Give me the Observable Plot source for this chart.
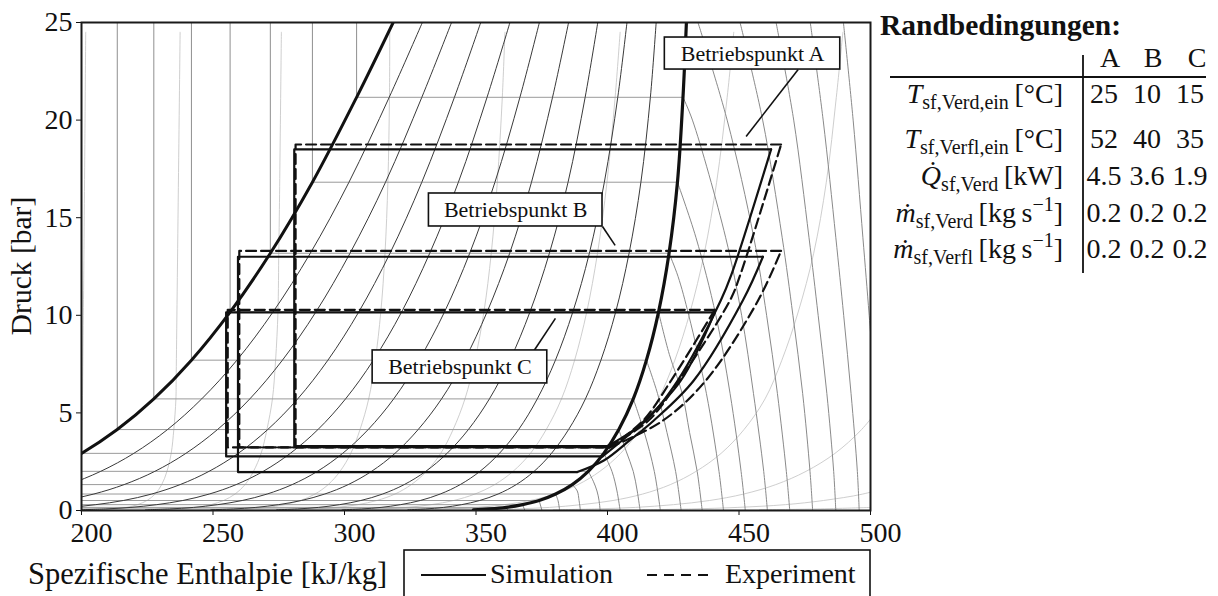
<!DOCTYPE html>
<html>
<head>
<meta charset="utf-8">
<script src="https://cdn.jsdelivr.net/npm/d3@7"></script>
<script src="https://cdn.jsdelivr.net/npm/@observablehq/plot@0.6"></script>
<style>
  body { margin: 0; background: #fff; }
  #chart svg { display: block; }
</style>
</head>
<body>
<div id="chart"></div>
<script>
// ---------------- axis ticks ----------------
const xTicks = [200, 250, 300, 350, 400, 450, 500];
const yTicks = [0, 5, 10, 15, 20, 25];

// ---------------- saturation (dome) ----------------
const satT  = [-80, -70, -60, -50, -40, -30, -20, -10, 0, 10, 20, 30, 40, 50, 60, 70, 77.6];
const satP  = [0.037, 0.080, 0.159, 0.299, 0.512, 0.844, 1.327, 2.006, 2.928, 4.146, 5.717, 7.702, 10.166, 13.179, 16.818, 21.168, 25.0];
const satHl = [99.5, 111.5, 123.6, 135.8, 148.1, 160.8, 173.6, 186.7, 200.0, 213.6, 227.5, 241.8, 256.5, 271.8, 287.8, 304.6, 318.5];
const satHv = [349.0, 355.2, 361.5, 367.7, 374.0, 380.3, 386.6, 392.7, 398.6, 404.3, 409.8, 414.8, 419.4, 423.4, 426.6, 428.7, 430.0];

// ---------------- quality lines (h at each satP) ----------------
const qualityLevels = [0.1, 0.2, 0.3, 0.4, 0.5, 0.6, 0.7, 0.8, 0.9];
const qualityH = [
  [124.5, 135.9, 147.4, 159.0, 170.7, 182.8, 194.9, 207.3, 219.9, 232.7, 245.7, 259.1, 272.8, 287.0, 301.7, 317.0, 329.6],
  [149.4, 160.2, 171.2, 182.2, 193.3, 204.7, 216.2, 227.9, 239.7, 251.7, 264.0, 276.4, 289.1, 302.1, 315.6, 329.4, 340.7],
  [174.4, 184.6, 195.0, 205.4, 215.9, 226.7, 237.5, 248.5, 259.6, 270.8, 282.2, 293.7, 305.4, 317.3, 329.4, 341.8, 351.8],
  [199.3, 209.0, 218.8, 228.6, 238.5, 248.6, 258.8, 269.1, 279.4, 289.9, 300.4, 311.0, 321.7, 332.4, 343.3, 354.2, 362.9],
  [224.3, 233.4, 242.6, 251.8, 261.1, 270.6, 280.1, 289.7, 299.3, 309.0, 318.7, 328.3, 338.0, 347.6, 357.2, 366.7, 374.1],
  [249.2, 257.7, 266.3, 274.9, 283.6, 292.5, 301.4, 310.3, 319.2, 328.0, 336.9, 345.6, 354.2, 362.8, 371.1, 379.1, 385.2],
  [274.2, 282.1, 290.1, 298.1, 306.2, 314.5, 322.7, 330.9, 339.0, 347.1, 355.1, 362.9, 370.5, 377.9, 385.0, 391.5, 396.3],
  [299.1, 306.5, 313.9, 321.3, 328.8, 336.4, 344.0, 351.5, 358.9, 366.2, 373.3, 380.2, 386.8, 393.1, 398.8, 403.9, 407.4],
  [324.1, 330.8, 337.7, 344.5, 351.4, 358.4, 365.3, 372.1, 378.7, 385.2, 391.6, 397.5, 403.1, 408.2, 412.7, 416.3, 418.5]
];

// ---------------- isotherms ----------------
const liquidIsoIdx = [8, 9, 10, 11, 12, 13, 14, 15];
const isobarIdx = [1, 2, 3, 4, 5, 6, 7, 8, 9, 10, 11, 12, 13, 14, 15];
const superT = [-70, -60, -50, -40, -30, -20, -10, 0, 10, 20, 30, 40, 50, 60, 70, 80, 90, 100, 110, 120];
const superLines = [
  [[355.2, 0.080], [355.8, 0]],
  [[361.5, 0.159], [362.2, 0]],
  [[367.7, 0.299], [368.6, 0]],
  [[374.0, 0.512], [375.1, 0]],
  [[380.3, 0.844], [381.2, 0.5], [381.8, 0]],
  [[386.6, 1.327], [388.5, 1.0], [389.2, 0.5], [389.7, 0]],
  [[392.7, 2.006], [394.6, 1.5], [396.0, 1.0], [396.8, 0.5], [397.2, 0]],
  [[398.6, 2.928], [401.7, 2.0], [403.6, 1.0], [404.8, 0]],
  [[404.3, 4.146], [407.2, 3.0], [409.8, 2.0], [411.3, 1.0], [412.4, 0]],
  [[409.8, 5.717], [414.0, 4.0], [417.8, 2.0], [420.1, 0]],
  [[414.8, 7.702], [419.0, 6.0], [422.6, 4.0], [425.9, 2.0], [428.0, 0]],
  [[419.4, 10.166], [423.5, 8.0], [428.4, 6.0], [431.2, 4.0], [434.1, 2.0], [436.0, 0]],
  [[423.4, 13.179], [426.8, 12.0], [430.9, 10.0], [437.6, 6.0], [442.4, 2.0], [444.1, 0]],
  [[426.6, 16.818], [433.6, 14.0], [441.2, 10.0], [446.6, 6.0], [450.8, 2.0], [452.4, 0]],
  [[428.7, 21.168], [432.3, 20.0], [444.9, 14.0], [451.0, 10.0], [455.5, 6.0], [459.4, 2.0], [460.8, 0]],
  [[434.4, 25], [445.5, 20], [455.6, 14], [460.5, 10], [464.6, 6], [468.0, 2], [469.3, 0]],
  [[450.4, 25], [459.0, 20], [466.4, 14], [470.5, 10], [474.2, 6], [477.0, 2], [478.0, 0]],
  [[464.1, 25], [470.8, 20], [476.6, 14], [480.1, 10], [483.4, 6], [486.0, 2], [486.8, 0]],
  [[477.1, 25], [482.0, 20], [486.8, 14], [489.8, 10], [492.6, 6], [495.0, 2], [495.7, 0]],
  [[489.7, 25], [493.4, 20], [497.1, 14], [499.5, 10], [501.8, 6]]
];

// ---------------- isentropes ----------------
const isenS = [1.0, 1.125, 1.25, 1.375, 1.5, 1.625, 1.75, 1.875, 2.0, 2.125, 2.25];
const isenLines = [
  [[183.2, 0.037], [187.2, 0.080], [190.6, 0.159], [193.4, 0.299], [195.8, 0.512], [197.6, 0.844], [198.9, 1.327], [199.6, 2.006], [200.0, 2.928], [200.7, 10], [201.6, 24.5]],
  [[207.3, 0.037], [212.6, 0.080], [217.2, 0.159], [221.3, 0.299], [224.9, 0.512], [228.0, 0.844], [230.5, 1.327], [232.5, 2.006], [234.1, 2.928], [235.1, 4.146], [235.9, 5.717], [236.0, 6.8], [237.5, 24.5]],
  [[231.4, 0.037], [238.0, 0.080], [243.9, 0.159], [249.2, 0.299], [254.0, 0.512], [258.4, 0.844], [262.2, 1.327], [265.4, 2.006], [268.3, 2.928], [270.5, 4.146], [272.6, 5.717], [273.8, 7.702], [274.7, 10.166], [275.0, 13.179], [275.1, 13.9], [276.0, 24.5]],
  [[255.6, 0.037], [263.4, 0.080], [270.5, 0.159], [277.1, 0.299], [283.2, 0.512], [288.8, 0.844], [293.8, 1.327], [298.3, 2.006], [302.4, 2.928], [305.9, 4.146], [309.2, 5.717], [311.7, 7.702], [313.8, 10.166], [315.4, 13.179], [316.5, 16.818], [317.1, 21.168], [317.2, 24.5]],
  [[279.7, 0.037], [288.7, 0.080], [297.2, 0.159], [305.0, 0.299], [312.3, 0.512], [319.2, 0.844], [325.4, 1.327], [331.2, 2.006], [336.6, 2.928], [341.3, 4.146], [345.8, 5.717], [349.6, 7.702], [353.0, 10.166], [355.8, 13.179], [358.1, 16.818], [360.0, 21.168], [361.0, 24.5]],
  [[303.9, 0.037], [314.1, 0.080], [323.8, 0.159], [332.9, 0.299], [341.5, 0.512], [349.6, 0.844], [357.1, 1.327], [364.1, 2.006], [370.7, 2.928], [376.7, 4.146], [382.5, 5.717], [387.5, 7.702], [392.1, 10.166], [396.2, 13.179], [399.8, 16.818], [402.9, 21.168], [404.8, 24.5]],
  [[328.0, 0.037], [339.5, 0.080], [350.5, 0.159], [360.8, 0.299], [370.6, 0.512], [380.0, 0.844], [388.8, 1.327], [397.1, 2.006], [405.0, 2.928], [412.3, 4.146], [419.4, 5.717], [425.6, 7.702], [431.4, 10.166], [436.8, 13.179], [441.5, 16.818], [445.5, 21.168], [448.0, 24.5]],
  [[352.2, 0.037], [365.3, 0.080], [378.0, 0.159], [390.0, 0.299], [402.1, 0.512], [413.4, 0.844], [423.9, 1.327], [433.7, 2.006], [443.2, 2.928], [451.9, 4.146], [459.9, 5.717], [466.3, 7.702], [472.5, 10.166], [478.4, 13.179], [483.2, 16.818], [487.0, 21.168], [489.5, 24.5]],
  [[379.4, 0.037], [395.0, 0.080], [410.7, 0.159], [425.1, 0.299], [438.8, 0.512], [451.8, 0.844], [464.0, 1.327], [475.5, 2.006], [486.5, 2.928], [496.6, 4.146], [506.0, 5.717]],
  [[413.4, 0.037], [432.0, 0.080], [449.6, 0.159], [467.6, 0.299], [482.1, 0.512], [497.1, 0.844], [510.0, 1.327]],
  [[457.8, 0.037], [479.7, 0.080], [500.5, 0.159]]
];

// ---------------- cycles (A, B, C) ----------------
const cycleNames = ["A", "B", "C"];
const simValveH = [280.9, 259.5, 255.0];
const expValveH = [281.4, 260.0, 255.6];
const simCompression = [
  [[400.0, 3.30], [414.5, 4.6], [426.7, 6.66], [443.1, 10.77], [447.0, 12.04], [462.2, 18.5]],
  [[388.5, 1.97], [398.6, 2.56], [408.5, 3.6], [417.5, 4.6], [432.8, 6.66], [451.5, 10.77], [459.1, 13.0]],
  [[398.1, 2.77], [414.0, 4.6], [427.9, 6.66], [440.8, 10.15]]
];
const expCompression = [
  [[400.4, 3.27], [415.5, 4.6], [427.2, 6.66], [446.6, 10.77], [450.4, 12.04], [466.0, 18.75]],
  [[400.8, 3.23], [421.0, 4.6], [437.4, 6.66], [457.3, 10.77], [466.0, 13.3]],
  [[400.8, 3.23], [413.5, 4.6], [424.2, 6.66], [440.8, 10.28]]
];

// ---------------- annotations ----------------
const annLabels = ["Betriebspunkt A", "Betriebspunkt B", "Betriebspunkt C"];
const annH1 = [421.8, 332.1, 310.7];
const annH2 = [488.5, 398.1, 377.1];
const annP1 = [22.59, 14.55, 6.51];
const annP2 = [24.23, 16.24, 8.20];
const leadH1 = [472.5, 398.1, 372.1];
const leadP1 = [22.59, 14.55, 8.20];
const leadH2 = [452.7, 402.9, 380.2];
const leadP2 = [19.16, 13.58, 9.84];

// ---------------- table & legend text ----------------
const tableTitle = "Randbedingungen:";
const tableCols = ["A", "B", "C"];
const rowSym = ["T", "T", "Q\u0307", "\u1E41", "\u1E41"];
const rowSub = ["sf,Verd,ein", "sf,Verfl,ein", "sf,Verd", "sf,Verd", "sf,Verfl"];
const rowUnit = ["[°C]", "[°C]", "[kW]", "[kg\u2009s", "[kg\u2009s"];
const rowUnitSup = ["", "", "", "\u22121", "\u22121"];
const valA = ["25", "52", "4.5", "0.2", "0.2"];
const valB = ["10", "40", "3.6", "0.2", "0.2"];
const valC = ["15", "35", "1.9", "0.2", "0.2"];
const legendLabels = ["Simulation", "Experiment"];
const xLabel = "Spezifische Enthalpie [kJ/kg]";
const yLabel = "Druck [bar]";

// ---------------- build rows ----------------
const liquidLine = satP.map((p, i) => ({h: satHl[i], p}));
const vaporLine = satP.map((p, i) => ({h: satHv[i], p}));
const qualityRows = qualityLevels.flatMap((q, k) => satP.map((p, i) => ({h: qualityH[k][i], p, q})));
const liqIsoRows = liquidIsoIdx.map(i => ({h: satHl[i], p1: satP[i], p2: satP[satP.length - 1]}));
const isobarRows = isobarIdx.map(i => ({h1: satHl[i], h2: satHv[i], p: satP[i]}));
const superRows = superT.flatMap((t, k) => superLines[k].map(([h, p]) => ({h, p, t})));
const isenRows = isenS.flatMap((s, k) => isenLines[k].map(([h, p]) => ({h, p, s})));

function loopRows(valveH, comp) {
  return cycleNames.flatMap((c, k) => {
    const first = comp[k][0], last = comp[k][comp[k].length - 1];
    return [
      {h: last[0], p: last[1], c},
      {h: valveH[k], p: last[1], c},
      {h: valveH[k], p: first[1], c},
      {h: first[0], p: first[1], c}
    ];
  });
}
const simLoop = loopRows(simValveH, simCompression);
const expLoop = loopRows(expValveH, expCompression);
const simComp = cycleNames.flatMap((c, k) => simCompression[k].map(([h, p]) => ({h, p, c})));
const expComp = cycleNames.flatMap((c, k) => expCompression[k].map(([h, p]) => ({h, p, c})));
const annRows = annLabels.map((label, i) => ({
  label, h1: annH1[i], h2: annH2[i], p1: annP1[i], p2: annP2[i],
  hc: (annH1[i] + annH2[i]) / 2, pc: (annP1[i] + annP2[i]) / 2,
  lh1: leadH1[i], lp1: leadP1[i], lh2: leadH2[i], lp2: leadP2[i]
}));

const FONT = "'Liberation Serif','Times New Roman',serif";
const DASH = "10,5";

const chart = Plot.plot({
  width: 1218,
  height: 596,
  marginLeft: 81,
  marginRight: 348,
  marginTop: 22,
  marginBottom: 86,
  style: {fontFamily: FONT, fontSize: "28px", background: "#fff", color: "#111", overflow: "visible"},
  x: {domain: [200, 500], axis: null},
  y: {domain: [0, 25], ticks: yTicks, tickSize: 5, tickPadding: 4, label: null, tickFormat: d => String(d)},
  marks: [
    Plot.line(isenRows, {x: "h", y: "p", z: "s", stroke: "#c8c8c8", strokeWidth: 0.9, curve: "catmull-rom", clip: true}),
    Plot.link(liqIsoRows, {x1: "h", x2: "h", y1: "p1", y2: "p2", stroke: "#8f8f8f", strokeWidth: 1, clip: true}),
    Plot.link(isobarRows, {x1: "h1", x2: "h2", y1: "p", y2: "p", stroke: "#9a9a9a", strokeWidth: 1, clip: true}),
    Plot.line(superRows, {x: "h", y: "p", z: "t", stroke: "#8a8a8a", strokeWidth: 1, curve: "catmull-rom", clip: true}),
    Plot.line(qualityRows, {x: "h", y: "p", z: "q", stroke: "#3a3a3a", strokeWidth: 1, curve: "catmull-rom", clip: true}),
    Plot.line(liquidLine, {x: "h", y: "p", stroke: "#111", strokeWidth: 3, curve: "catmull-rom", clip: true}),
    Plot.line(vaporLine, {x: "h", y: "p", stroke: "#111", strokeWidth: 3.2, curve: "catmull-rom", clip: true}),
    Plot.line(simLoop, {x: "h", y: "p", z: "c", stroke: "#111", strokeWidth: 2.2, clip: true}),
    Plot.line(simComp, {x: "h", y: "p", z: "c", stroke: "#111", strokeWidth: 2.2, curve: "catmull-rom", clip: true}),
    Plot.line(expLoop, {x: "h", y: "p", z: "c", stroke: "#111", strokeWidth: 2.2, strokeDasharray: DASH, clip: true}),
    Plot.line(expComp, {x: "h", y: "p", z: "c", stroke: "#111", strokeWidth: 2.2, strokeDasharray: DASH, curve: "catmull-rom", clip: true}),
    Plot.link(annRows, {x1: "lh1", y1: "lp1", x2: "lh2", y2: "lp2", stroke: "#111", strokeWidth: 1.6}),
    Plot.rect(annRows, {x1: "h1", x2: "h2", y1: "p1", y2: "p2", fill: "#fff", stroke: "#111", strokeWidth: 1.6}),
    Plot.text(annRows, {x: "hc", y: "pc", text: "label", fontSize: 22, fill: "#111", textAnchor: "middle", lineAnchor: "middle"}),
    // x axis: tick marks + labels (labels sit slightly right of their ticks, as in the reference)
    Plot.axisX(xTicks, {tickSize: 5, tickFormat: () => "", label: null}),
    Plot.text(xTicks, {x: d => d, text: d => String(d), frameAnchor: "bottom", lineAnchor: "top", dy: 12, dx: 10, fontSize: 28, fill: "#111"}),
    Plot.frame({stroke: "#1a1a1a", strokeWidth: 2})
  ]
});

document.getElementById("chart").appendChild(chart);

// ---------------- overlay: titles, legend, table ----------------
const svg = d3.select(chart);
const ov = svg.append("g")
  .attr("font-family", FONT)
  .attr("fill", "#111")
  .attr("font-size", 28)
  .attr("text-anchor", "start")
  .style("text-anchor", "start")
  .style("font-family", FONT);

// axis titles
ov.append("text").attr("x", 28).attr("y", 584).attr("font-size", 30.5).style("text-anchor", "start").text(xLabel);
ov.append("text").attr("transform", "translate(31,266) rotate(-90)").style("text-anchor", "middle")
  .attr("font-size", 29.5).text(yLabel);

// legend box
ov.append("rect").attr("x", 404).attr("y", 550).attr("width", 466).attr("height", 70)
  .attr("fill", "none").attr("stroke", "#111").attr("stroke-width", 1.6);
ov.append("line").attr("x1", 421).attr("x2", 486).attr("y1", 575).attr("y2", 575)
  .attr("stroke", "#111").attr("stroke-width", 2.2);
ov.append("text").attr("x", 490).attr("y", 583).style("text-anchor", "start").text(legendLabels[0]);
ov.append("line").attr("x1", 647).attr("x2", 708).attr("y1", 575).attr("y2", 575)
  .attr("stroke", "#111").attr("stroke-width", 2.2).attr("stroke-dasharray", "10,7");
ov.append("text").attr("x", 725).attr("y", 583).style("text-anchor", "start").text(legendLabels[1]);

// table
ov.append("text").attr("x", 880).attr("y", 35).attr("font-weight", "bold").attr("font-size", 29.5)
  .style("text-anchor", "start").text(tableTitle);
const headX = [1110, 1153, 1197];
tableCols.forEach((c, i) => ov.append("text").attr("x", headX[i]).attr("y", 67).style("text-anchor", "middle").text(c));
ov.append("line").attr("x1", 890).attr("x2", 1206).attr("y1", 77).attr("y2", 77).attr("stroke", "#111").attr("stroke-width", 2);
ov.append("line").attr("x1", 1083).attr("x2", 1083).attr("y1", 55).attr("y2", 273).attr("stroke", "#111").attr("stroke-width", 1.8);

const rowY = [102.5, 147.5, 185, 221.5, 258];
const valX = [1104, 1147, 1190];
rowSym.forEach((sym, i) => {
  const t = ov.append("text").attr("x", 1063).attr("y", rowY[i]).style("text-anchor", "end");
  t.append("tspan").attr("font-style", "italic").text(sym);
  t.append("tspan").attr("font-size", 20).attr("dy", 6).text(rowSub[i]);
  t.append("tspan").attr("dy", -6).text("\u2009" + rowUnit[i]);
  if (rowUnitSup[i]) {
    t.append("tspan").attr("font-size", 20).attr("dy", -11).text(rowUnitSup[i]);
    t.append("tspan").attr("dy", 11).text("]");
  }
  [valA[i], valB[i], valC[i]].forEach((v, j) =>
    ov.append("text").attr("x", valX[j]).attr("y", rowY[i]).style("text-anchor", "middle").text(v));
});
</script>
</body>
</html>
